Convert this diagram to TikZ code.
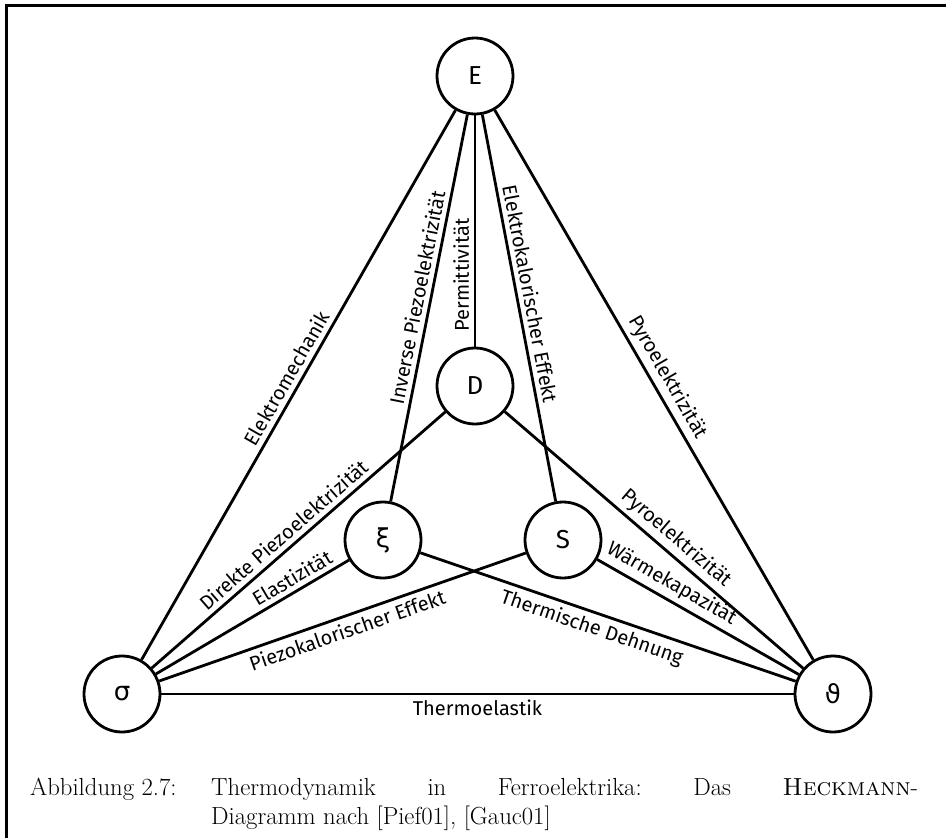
\documentclass[tikz,border=0pt]{standalone}
\usepackage{fontspec}
\newfontfamily\labfont{Fira Sans}
\newfontfamily\grkfont{DejaVu Sans}
\begin{document}
\begin{tikzpicture}[x=1pt,y=-1pt,
  st/.style={circle, draw, line width=2.8pt, minimum size=76pt, inner sep=0pt, font=\labfont\fontsize{26}{30}\selectfont},
  ln/.style={line width=2.8pt},
  lab/.style={font=\labfont\fontsize{20}{23}\selectfont, sloped, inner sep=4.5pt},
  capt/.style={anchor=base west, inner sep=0pt, font=\fontsize{24.7}{33}\selectfont}]
\useasboundingbox (0,0) rectangle (946,838);
\draw[line width=3pt] (6,838) -- (6,5.5) -- (946,5.5);

\node[st] (E) at (475,76) {E};
\node[st] (D) at (475,386) {D};
\node[st] (xi) at (383,540) {\grkfont ξ};
\node[st] (S) at (563,540) {S};
\node[st] (sig) at (122,694) {\grkfont σ};
\node[st] (th) at (833,694) {\grkfont ϑ};

\draw[ln] (sig) -- node[lab, above, pos=0.5] {Elektromechanik} (E);
\draw[ln] (E) -- node[lab, above, pos=0.5] {Pyroelektrizität} (th);
\draw[ln] (xi) -- node[lab, above, pos=0.52] {Inverse Piezoelektrizität} (E);
\draw[ln] (D) -- node[lab, above, pos=0.31] {Permittivität} (E);
\draw[ln] (E) -- node[lab, above, pos=0.47] {Elektrokalorischer Effekt} (S);
\draw[ln] (sig) -- node[lab, above, pos=0.48] {Direkte Piezoelektrizität} (D);
\draw[ln] (D) -- node[lab, above, pos=0.54] {Pyroelektrizität} (th);
\draw[ln] (sig) -- node[lab, above, pos=0.74] {Elastizität} (xi);
\draw[ln] (sig) -- node[lab, below, pos=0.5] {Piezokalorischer Effekt} (S);
\draw[ln] (xi) -- node[lab, below, pos=0.47] {Thermische Dehnung} (th);
\draw[ln] (S) -- node[lab, above, pos=0.33] {Wärmekapazität} (th);
\draw[ln] (sig) -- node[lab, below] {Thermoelastik} (th);

\node[capt] (cap1) at (30,795) {Abbildung 2.7:};
\node[capt] (cap2) at (211,795) {\hbox to 707pt{Thermodynamik\hfill in\hfill Ferroelektrika:\hfill Das\hfill \textsc{Heckmann}-}};
\node[capt] (cap3) at (211,824) {Diagramm nach [Pief01], [Gauc01]};
\end{tikzpicture}
\end{document}
